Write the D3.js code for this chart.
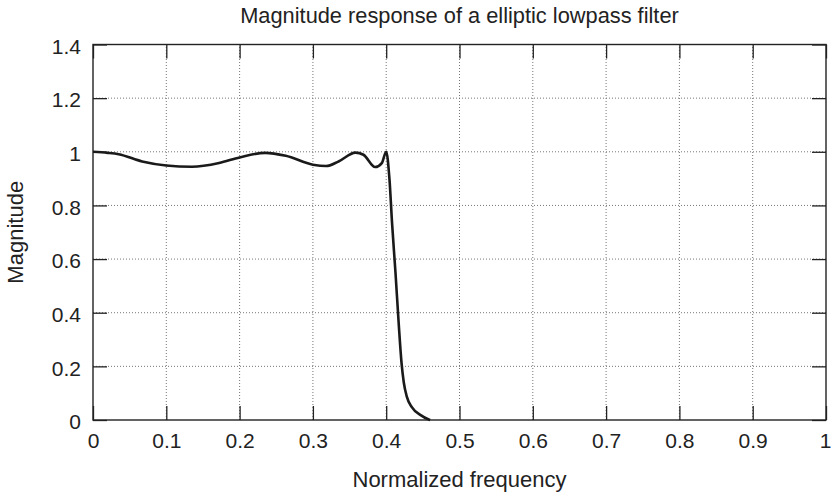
<!DOCTYPE html>
<html>
<head>
<meta charset="utf-8">
<script src="https://cdn.jsdelivr.net/npm/d3@7"></script>
<style>
  body { margin: 0; background: #fff; }
  text { font-family: "Liberation Sans", Arial, sans-serif; fill: #222; }
</style>
</head>
<body>
<div id="chart"></div>
<script>
// data
const freq = [0, 0.02, 0.035, 0.067, 0.1, 0.135, 0.172, 0.2, 0.235, 0.263, 0.3, 0.318, 0.335,
  0.358, 0.369, 0.385, 0.394, 0.4, 0.4045, 0.408, 0.4127, 0.417, 0.421, 0.424, 0.428, 0.435, 0.447, 0.458, 0.46];
const mag = [1.0, 0.996, 0.991, 0.964, 0.949, 0.944, 0.958, 0.979, 0.996, 0.985, 0.952, 0.947, 0.964,
  0.997, 0.989, 0.943, 0.958, 1.0, 0.896, 0.734, 0.548, 0.362, 0.21, 0.14, 0.088, 0.048, 0.018, 0.002, 0];
const xTicks = [0, 0.1, 0.2, 0.3, 0.4, 0.5, 0.6, 0.7, 0.8, 0.9, 1];
const yTicks = [0, 0.2, 0.4, 0.6, 0.8, 1, 1.2, 1.4];
const title = 'Magnitude response of a elliptic lowpass filter';
const xLabel = 'Normalized frequency';
const yLabel = 'Magnitude';

const width = 831, height = 495;
const margin = { top: 44.5, right: 5, bottom: 75, left: 93 };

const svg = d3.select('#chart')
  .append('svg')
  .attr('width', width)
  .attr('height', height);

const x = d3.scaleLinear().domain([0, 1]).range([margin.left, width - margin.right]);
const y = d3.scaleLinear().domain([0, 1.4]).range([height - margin.bottom, margin.top]);

// dotted grid
svg.append('g')
  .selectAll('line')
  .data(xTicks.slice(1, -1))
  .join('line')
  .attr('x1', d => x(d)).attr('x2', d => x(d))
  .attr('y1', y(0)).attr('y2', y(1.4))
  .attr('stroke', '#666')
  .attr('stroke-width', 0.9)
  .attr('stroke-dasharray', '1,2');

svg.append('g')
  .selectAll('line')
  .data(yTicks.slice(1, -1))
  .join('line')
  .attr('x1', x(0)).attr('x2', x(1))
  .attr('y1', d => y(d)).attr('y2', d => y(d))
  .attr('stroke', '#666')
  .attr('stroke-width', 0.9)
  .attr('stroke-dasharray', '1,2');

// axes with inward ticks on all four sides
const tickLen = 14;
const fmt = d => d3.format('')(+d.toFixed(1));

const xAxis = svg.append('g')
  .attr('transform', `translate(0,${y(0)})`)
  .call(d3.axisBottom(x).tickValues(xTicks).tickSize(-tickLen).tickPadding(0).tickFormat(fmt));
xAxis.selectAll('text').attr('y', 28).attr('dy', null).style('font-size', '21px');
// last label kept inside the page
xAxis.selectAll('.tick').filter(d => d === 1).select('text')
  .attr('text-anchor', 'end').attr('x', 5);

const xTop = svg.append('g')
  .attr('transform', `translate(0,${y(1.4)})`)
  .call(d3.axisTop(x).tickValues(xTicks).tickSize(-tickLen).tickFormat(''));

const yAxis = svg.append('g')
  .attr('transform', `translate(${x(0)},0)`)
  .call(d3.axisLeft(y).tickValues(yTicks).tickSize(-tickLen).tickFormat(fmt));
yAxis.selectAll('text').attr('x', -12).attr('dy', '0.42em').style('font-size', '21px');

const yRight = svg.append('g')
  .attr('transform', `translate(${x(1)},0)`)
  .call(d3.axisRight(y).tickValues(yTicks).tickSize(-tickLen).tickFormat(''));

[xAxis, xTop, yAxis, yRight].forEach(g => {
  g.attr('font-family', null).attr('font-size', null);
  g.select('.domain').remove();
  g.selectAll('.tick line').attr('stroke', '#222').attr('stroke-width', 1.3);
});

// frame
svg.append('rect')
  .attr('x', x(0)).attr('y', y(1.4))
  .attr('width', x(1) - x(0)).attr('height', y(0) - y(1.4))
  .attr('fill', 'none')
  .attr('stroke', '#222')
  .attr('stroke-width', 1.4);

// response curve
const line = d3.line()
  .x((d, i) => x(freq[i]))
  .y(d => y(d))
  .curve(d3.curveMonotoneX);

svg.append('path')
  .datum(mag)
  .attr('d', line)
  .attr('fill', 'none')
  .attr('stroke', '#1a1a1a')
  .attr('stroke-width', 2.6)
  .attr('stroke-linejoin', 'round');

// titles
svg.append('text')
  .attr('x', (x(0) + x(1)) / 2)
  .attr('y', 23)
  .attr('text-anchor', 'middle')
  .style('font-size', '21.8px')
  .text(title);

svg.append('text')
  .attr('x', (x(0) + x(1)) / 2)
  .attr('y', 487)
  .attr('text-anchor', 'middle')
  .style('font-size', '22px')
  .text(xLabel);

svg.append('text')
  .attr('transform', `translate(23,${(y(0) + y(1.4)) / 2}) rotate(-90)`)
  .attr('text-anchor', 'middle')
  .style('font-size', '22px')
  .text(yLabel);
</script>
</body>
</html>
